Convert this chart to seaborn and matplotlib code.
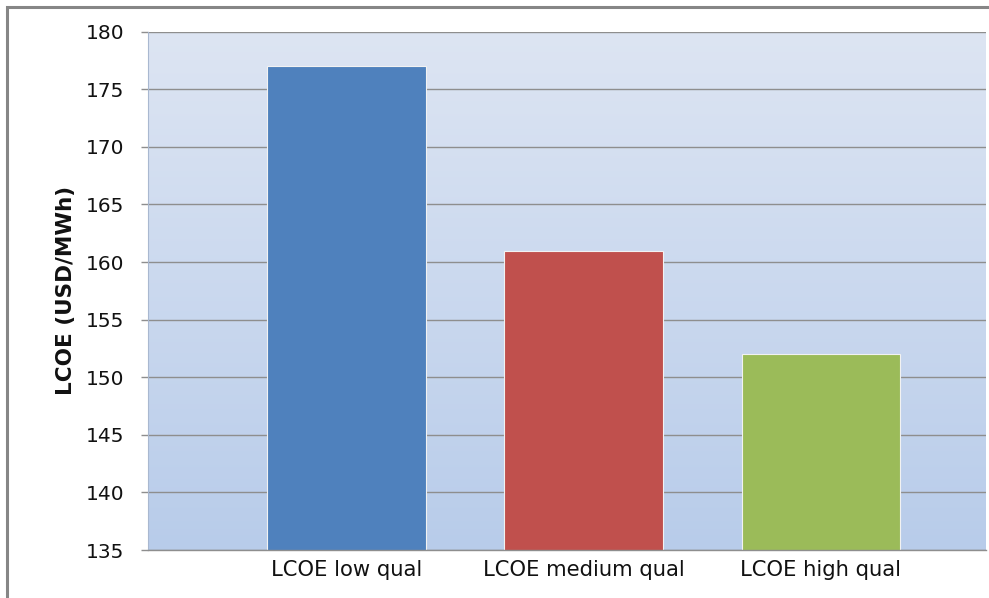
import numpy as np
import pandas as pd
import matplotlib
matplotlib.use("Agg")
import matplotlib.pyplot as plt
from matplotlib.patches import Rectangle
import seaborn as sns

categories = ["LCOE low qual", "LCOE medium qual", "LCOE high qual"]
lcoe_values = [177, 161, 152]
bar_colors = ["#4F81BD", "#C0504D", "#9BBB59"]
y_ticks = [135, 140, 145, 150, 155, 160, 165, 170, 175, 180]

sns.set_theme(style="white")
plt.rcParams["font.family"] = ["DejaVu Sans"]

W, H, DPI = 989, 598, 100
fig = plt.figure(figsize=(W / DPI, H / DPI), dpi=DPI)
fig.patch.set_facecolor("white")

# plot area in pixel coordinates
left, right, top, bottom = 148, 986, 31.7, 550
ax = fig.add_axes([left / W, 1 - bottom / H, (right - left) / W, (bottom - top) / H])

df = pd.DataFrame({"category": categories, "lcoe": lcoe_values})
sns.barplot(data=df, x="category", y="lcoe", hue="category", palette=bar_colors,
            legend=False, width=0.667, saturation=1, ax=ax,
            edgecolor="#f2f2f2", linewidth=0.8, zorder=3)

# vertical gradient background of the plot area
top_c = np.array([221, 229, 243]) / 255
bot_c = np.array([184, 204, 234]) / 255
t = np.linspace(0, 1, 512)[:, None]
grad = (top_c * (1 - t) + bot_c * t)[:, None, :]
ax.imshow(grad, extent=[0, 1, 0, 1], transform=ax.transAxes, aspect="auto",
          zorder=0, interpolation="bilinear")

ax.set_xlim(-0.8376, 2.698)
ax.set_ylim(135, 180)
ax.set_yticks(y_ticks)
ax.set_yticklabels([str(v) for v in y_ticks])
ax.yaxis.grid(True, color="#8e8e8e", linewidth=1.0, zorder=1)
ax.xaxis.grid(False)
ax.set_axisbelow(True)

for s in ["top", "right"]:
    ax.spines[s].set_visible(False)
ax.spines["left"].set_color("#a9b8d0")
ax.spines["left"].set_linewidth(0.8)
ax.spines["bottom"].set_color("#8e8e8e")
ax.spines["bottom"].set_linewidth(1.0)
ax.spines["bottom"].set_zorder(4)

ax.tick_params(axis="y", which="major", left=True, length=5, width=1.0,
               color="#8e8e8e", pad=12, labelsize=14.5, labelcolor="#111111")
ax.tick_params(axis="x", which="major", bottom=False, length=0, pad=7,
               labelsize=15.2, labelcolor="#111111")

ax.set_xlabel("")
ax.set_ylabel("LCOE (USD/MWh)", fontsize=15.5, fontweight="bold", color="#111111",
              labelpad=7)

# chart outer border
fig.patches.append(Rectangle((7 / W, -0.1), 1.2, 1.1 - 7 / H, transform=fig.transFigure,
                             fill=False, edgecolor="#868686", linewidth=2.2, zorder=10))

fig.savefig("out.png", dpi=DPI, facecolor="white")
